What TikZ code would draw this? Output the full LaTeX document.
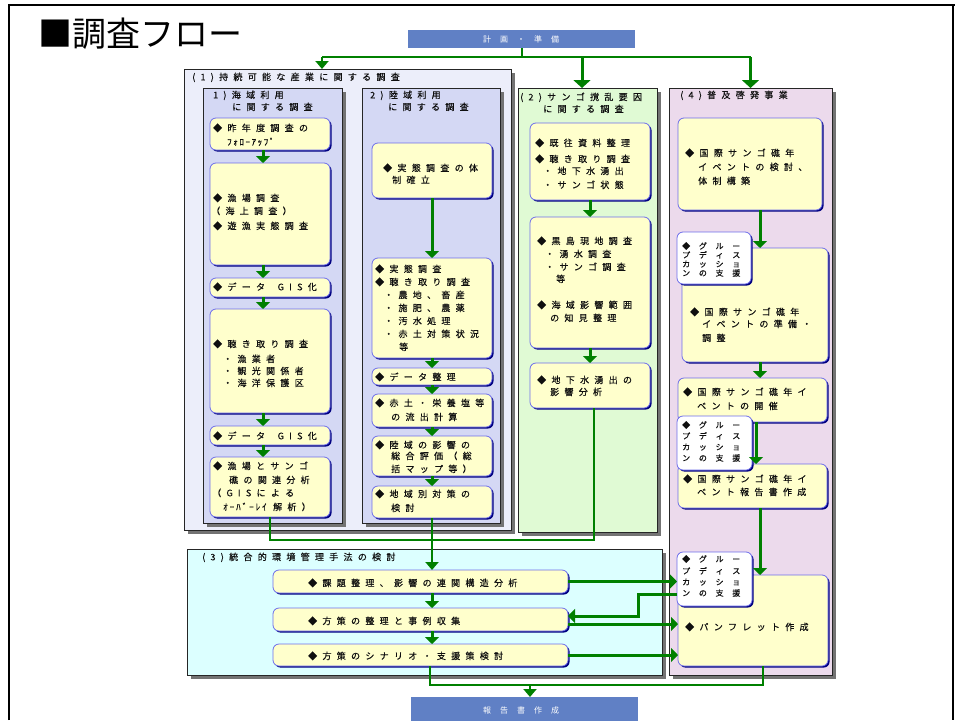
\documentclass[tikz,border=0pt]{standalone}
\usepackage{fontspec}
\newfontfamily\jp[FakeBold=0.35]{Noto Sans CJK JP}
\newfontfamily\jpt{Noto Sans CJK JP}
\usetikzlibrary{arrows.meta,shadows,calc}
\definecolor{grn}{RGB}{0,128,0}
\definecolor{barblue}{RGB}{96,128,197}
\definecolor{lav1}{RGB}{236,238,250}
\definecolor{lav2}{RGB}{212,216,244}
\definecolor{lgreen}{RGB}{224,250,212}
\definecolor{lcyan}{RGB}{220,255,255}
\definecolor{lpink}{RGB}{236,218,236}
\definecolor{ylw}{RGB}{255,255,204}
\definecolor{bedge}{RGB}{110,110,235}
\definecolor{navytwo}{RGB}{0,0,128}
\definecolor{txtc}{RGB}{15,15,15}
\makeatletter
\def\spk{5.3pt}
\newcommand\spc[1]{\let\sp@sep\relax\@tfor\sp@x:=#1\do{\sp@sep\sp@x\def\sp@sep{\kern\spk}}}
\makeatother
\newcounter{tln}
\newcommand\bx[6]{\pgfmathsetmacro\bw{#5-#3}\pgfmathsetmacro\bh{#6-#4}%
  \node[#1, minimum width=\bw pt, minimum height=\bh pt, anchor=north west, inner sep=0pt, outer sep=0pt] (#2) at (#3,#4) {};}
\newcommand\tl[4][5.3pt]{\stepcounter{tln}\def\spk{#1}\node[tx] (t\arabic{tln}) at (#2,#3+3.3) {\spc{#4}};}
\newcommand\tlb[4][8.7pt]{\stepcounter{tln}\def\spk{#1}\node[txb] (t\arabic{tln}) at (#2,#3+3) {\spc{#4}};}
\newcommand\tlc[4][9pt]{\stepcounter{tln}\def\spk{#1}\node[txc] (t\arabic{tln}) at (#2,#3+3) {\spc{#4}};}
\tikzset{
  tx/.style={anchor=base west, inner sep=0pt, font=\jp\fontsize{9}{11}\selectfont, text=txtc},
  txb/.style={anchor=base west, inner sep=0pt, font=\jp\fontsize{8}{10}\selectfont, text=txtc},
  txc/.style={anchor=base, inner sep=0pt, font=\jpt\fontsize{8}{10}\selectfont, text=white},
  bigbox/.style={draw=black!85, line width=0.9pt, drop shadow={shadow xshift=4pt, shadow yshift=-4pt, fill=black!55, opacity=1}},
  ybox/.style={fill=ylw, draw=bedge, line width=0.8pt, rounded corners=6pt, drop shadow={shadow xshift=1.6pt, shadow yshift=-1.6pt, fill=navytwo, opacity=1}},
  wbox/.style={fill=white, draw=bedge, line width=0.8pt, rounded corners=6pt, drop shadow={shadow xshift=1.6pt, shadow yshift=-1.6pt, fill=navytwo, opacity=1}},
  bar/.style={fill=barblue, draw=none},
  arr/.style={draw=grn, line width=3pt, -{Triangle[width=14pt,length=7pt]}},
  arrbig/.style={draw=grn, line width=3pt, -{Triangle[width=17pt,length=8pt]}},
  arrs/.style={draw=grn, line width=2.5pt, -{Triangle[width=13pt,length=8pt]}},
  ln/.style={draw=grn, line width=2pt},
}
\begin{document}
\begin{tikzpicture}[x=1pt,y=-1pt]
\useasboundingbox (0,0) rectangle (955,720);
\fill[white] (0,0) rectangle (955,720);
% frame
\draw[line width=2pt] (9,720) -- (9,5) -- (955,5);
\draw[line width=1.5pt] (953,5) -- (953,720);
\node[anchor=base west, font=\jpt\fontsize{34}{34}\selectfont, inner sep=0pt] (title) at (38,46) {■調査フロー};
% bars
\bx{bar}{plan}{408}{30}{635}{48}
\bx{bar}{rep}{411}{697}{638}{722}
% big boxes
\bx{bigbox, fill=lav1}{o1}{184}{69}{511}{530}
\bx{bigbox, fill=lav2}{s1}{203}{88}{342}{523}
\bx{bigbox, fill=lav2}{s2}{362}{88}{500}{523}
\bx{bigbox, fill=lgreen}{o2}{518}{88}{657}{532}
\bx{bigbox, fill=lpink}{o4}{669}{88}{832}{675}
\bx{bigbox, fill=lcyan}{o3}{187}{549}{662}{675}
% column 1
\bx{ybox}{b1}{210}{118}{330}{150}
\bx{ybox}{b2}{210}{163}{330}{265}
\bx{ybox}{b3}{210}{278}{330}{297}
\bx{ybox}{b4}{210}{309}{330}{413}
\bx{ybox}{b5}{210}{426}{330}{445}
\bx{ybox}{b6}{210}{457}{330}{517}
% column 2
\bx{ybox}{c1}{372}{143}{492}{198}
\bx{ybox}{c2}{372}{258}{492}{358}
\bx{ybox}{c3}{372}{368}{492}{385}
\bx{ybox}{c4}{372}{394}{492}{427}
\bx{ybox}{c5}{372}{436}{492}{476}
\bx{ybox}{c6}{372}{486}{492}{518}
% column 3
\bx{ybox}{d1}{530}{123}{650}{200}
\bx{ybox}{d2}{530}{217}{650}{348}
\bx{ybox}{d3}{530}{363}{650}{408}
% column 4
\bx{ybox}{e1}{678}{118}{822}{210}
\bx{ybox}{e2}{682}{248}{828}{362}
\bx{ybox}{e3}{678}{378}{827}{422}
\bx{ybox}{e4}{678}{464}{827}{508}
\bx{ybox}{e5}{678}{575}{828}{666}
\bx{wbox}{w1}{677}{232}{751}{284}
\bx{wbox}{w2}{677}{416}{752}{470}
\bx{wbox}{w3}{677}{552}{752}{606}
% (3)
\bx{ybox}{f1}{273}{570}{568}{593}
\bx{ybox}{f2}{273}{608}{568}{631}
\bx{ybox}{f3}{273}{644}{568}{666}
% top connectors
\coordinate (tl) at (322,57);
\coordinate (tr) at (750.5,57);
\draw[ln] (plan.south) -- (plan.south |- tl);
\draw[ln] (tl) -- (tr);
\draw[arrs] (tl) -- (tl |- o1.north);
\draw[arrbig] ($(o2.north)+(-5.5,-31)$) -- ([xshift=-5.5pt]o2.north);
\draw[arrbig] (tr) -- (o4.north);
% column 1 arrows
\draw[arr] ([xshift=-7pt]b1.south) -- ([xshift=-7pt]b2.north);
\draw[arr] ([xshift=-7pt]b2.south) -- ([xshift=-7pt]b3.north);
\draw[arr] ([xshift=-7pt]b3.south) -- ([xshift=-7pt]b4.north);
\draw[arr] ([xshift=-7pt]b4.south) -- ([xshift=-7pt]b5.north);
\draw[arr] ([xshift=-7pt]b5.south) -- ([xshift=-7pt]b6.north);
% column 2 arrows
\draw[arr] (c1.south) -- (c2.north);
\draw[arr] (c2.south) -- (c3.north);
\draw[arr] (c3.south) -- (c4.north);
\draw[arr] (c4.south) -- (c5.north);
\draw[arr] (c5.south) -- (c6.north);
% column 3 arrows
\draw[arr] (d1.south) -- (d2.north);
\draw[arr] (d2.south) -- (d3.north);
% column 4 arrows
\draw[arr] ([xshift=10pt]e1.south) -- ([xshift=5pt]e2.north);
\draw[arr] ([xshift=5pt]e2.south) -- ([xshift=7.5pt]e3.north);
\draw[arr] ([xshift=3.5pt]e3.south) -- ([xshift=3.5pt]e4.north);
\draw[arr] ([xshift=7.5pt]e4.south) -- ([xshift=7pt]e5.north);
% to (3)
\draw[ln] (b6.south) -- ++(0,23) -| ([xshift=4pt]d3.south);
\draw[arrs] (c6.south) -- (c6.south |- f1.north);
\draw[arr] ([xshift=11.5pt]f1.south) -- ([xshift=11.5pt]f2.north);
\draw[arr] ([xshift=11.5pt]f2.south) -- ([xshift=11.5pt]f3.north);
% (3) to (4)
\draw[arr] (f1.east) -- (f1.east -| w3.west);
\draw[arr] ([yshift=-15pt]w3.west) -- ++(-39,0) |- ([yshift=3.5pt]f2.east);
\draw[arr] ([yshift=-4.5pt]f2.east) -- ([yshift=-4.5pt]f2.east -| e5.west);
\draw[arr] (f3.east) -- (f3.east -| e5.west);
% bottom
\draw[ln] ([xshift=9.5pt]f3.south) -- ++(0,19) -| ([xshift=10pt]e5.south);
\draw[arrs] ($(rep.north)+(5.5,-12)$) -- ([xshift=5.5pt]rep.north);
% texts bars
\tlc{521}{39}{計画・準備}
\tlc{521}{710}{報告書作成}
% titles
\tl{192}{77}{(1)持続可能な産業に関する調査}
\tl{213}{95}{1)海域利用}
\tl{232}{107}{に関する調査}
\tl{370}{95}{2)陸域利用}
\tl{388}{107}{に関する調査}
\tl{520}{97}{(2)サンゴ撹乱要因}
\tl{543}{109}{に関する調査}
\tl{680}{95}{(4)普及啓発事業}
\tl{202}{557}{(3)統合的環境管理手法の検討}
% column 1 texts
\tl{213}{128}{◆昨年度調査の}
\tl[1.6pt]{227}{142}{ﾌｫﾛｰｱｯﾌﾟ}
\tl{213}{198}{◆漁場調査}
\tl{211}{211}{（海上調査）}
\tl{213}{226}{◆遊漁実態調査}
\tl{213}{287}{◆データ~GIS化}
\tl{213}{344}{◆聴き取り調査}
\tl{223}{359}{・漁業者}
\tl{223}{371}{・観光関係者}
\tl{223}{383}{・海洋保護区}
\tl{213}{436}{◆データ~GIS化}
\tl{213}{466}{◆漁場とサンゴ}
\tl{229}{480}{礁の関連分析}
\tl{212}{493}{（GISによる}
\tl[2pt]{223}{507}{ｵｰﾊﾞｰﾚｲ}
\tl{273}{507}{解析）}
% column 2 texts
\tl{383}{168}{◆実態調査の体}
\tl{392}{180}{制確立}
\tl{375}{269}{◆実態調査}
\tl{375}{282}{◆聴き取り調査}
\tl{384}{295}{・農地、畜産}
\tl{384}{308}{・施肥、農薬}
\tl{384}{321}{・汚水処理}
\tl{384}{334}{・赤土対策状況}
\tl{399}{347}{等}
\tl{375}{377}{◆データ整理}
\tl{375}{403}{◆赤土・栄養塩等}
\tl{391}{417}{の流出計算}
\tl{375}{445}{◆陸域の影響の}
\tl{391}{456}{総合評価（総}
\tl{391}{469}{括マップ等）}
\tl{375}{494}{◆地域別対策の}
\tl{391}{508}{検討}
% column 3 texts
\tl{535}{143}{◆既往資料整理}
\tl{535}{159}{◆聴き取り調査}
\tl{543}{171}{・地下水湧出}
\tl{543}{185}{・サンゴ状態}
\tl{537}{241}{◆黒島現地調査}
\tl{545}{254}{・湧水調査}
\tl{545}{267}{・サンゴ調査}
\tl{556}{279}{等}
\tl{537}{305}{◆海域影響範囲}
\tl{550}{318}{の知見整理}
\tl{537}{380}{◆地下水湧出の}
\tl{550}{392}{影響分析}
% column 4 texts
\tl{685}{153}{◆国際サンゴ礁年}
\tl{698}{167}{イベントの検討、}
\tl{698}{181}{体制構築}
\tl{690}{312}{◆国際サンゴ礁年}
\tl{702}{324}{イベントの準備・}
\tl{702}{338}{調整}
\tl{683}{392}{◆国際サンゴ礁年イ}
\tl{697}{406}{ベントの開催}
\tl{683}{479}{◆国際サンゴ礁年イ}
\tl{697}{492}{ベント報告書作成}
\tl{685}{627}{◆パンフレット作成}
% bubbles
\tlb{682}{246}{◆グルー}
\tlb{682}{255}{プディス}
\tlb{682}{264}{カッショ}
\tlb{682}{273}{ンの支援}
\tlb{682}{425}{◆グルー}
\tlb{682}{436}{プディス}
\tlb{682}{447}{カッショ}
\tlb{682}{458}{ンの支援}
\tlb{682}{559}{◆グルー}
\tlb{682}{571}{プディス}
\tlb{682}{582}{カッショ}
\tlb{682}{593}{ンの支援}
% (3) texts
\tl{308}{583}{◆課題整理、影響の連関構造分析}
\tl{308}{621}{◆方策の整理と事例収集}
\tl{308}{656}{◆方策のシナリオ・支援策検討}
\end{tikzpicture}
\end{document}
